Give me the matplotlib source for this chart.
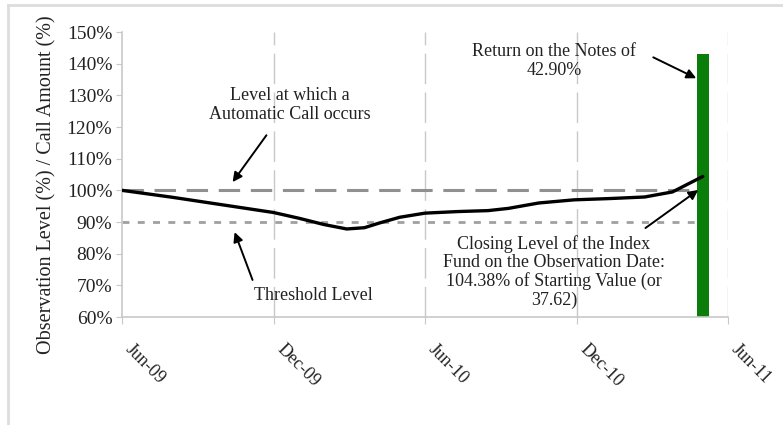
import matplotlib
matplotlib.use("Agg")
import matplotlib.pyplot as plt
from matplotlib.lines import Line2D

plt.rcParams['font.family'] = ['Liberation Serif', 'DejaVu Serif']

# months since Jun-09
months = [0, 1, 2, 3, 4, 5, 6, 7, 8, 8.9, 9.6, 10.2, 11, 12, 13.3, 14.5, 15.3, 16.5, 17.9, 19.3, 20.7, 21.8, 23]
levels = [100, 98.9, 97.8, 96.6, 95.4, 94.2, 93.0, 91.2, 89.2, 87.8, 88.2, 89.7, 91.5, 92.8, 93.3, 93.6, 94.3, 96.0, 97.0, 97.4, 97.9, 99.5, 104.38]
obs_month = 23
note_return = 142.9
call_level = 100
threshold = 90
tick_months = [0, 6, 12, 18, 24]
tick_labels = ['Jun-09', 'Dec-09', 'Jun-10', 'Dec-10', 'Jun-11']
y_ticks = [60, 70, 80, 90, 100, 110, 120, 130, 140, 150]

fig = plt.figure(figsize=(7.83, 4.25), dpi=100)
ax = fig.add_axes([0.1558, 0.2541, 0.7740, 0.6706])

txt = '#222222'
grid = '#c8c8c8'

ax.set_xlim(0, 24)
ax.set_ylim(60, 150)

for m in tick_months[1:]:
    ax.axvline(m, color=grid, lw=1.0, ls=(0, (22, 6)), zorder=0)

ax.bar([obs_month], [note_return], width=0.47, color='#0a7d0a', zorder=2)
ax.plot([0, obs_month], [call_level, call_level], color='#909090', lw=2.2, ls=(0, (7, 3.5)), zorder=1)
ax.plot([0, obs_month], [threshold, threshold], color='#a0a0a0', lw=2.0, ls=(0, (2.5, 3)), zorder=1)
ax.plot(months, levels, color='black', lw=2.4, zorder=3, solid_capstyle='round')

ax.set_xticks(tick_months)
ax.set_xticklabels(tick_labels, rotation=-45, ha='left', va='top', rotation_mode='default', fontsize=13, color=txt)
ax.set_yticks(y_ticks)
ax.set_yticklabels([f'{v}%' for v in y_ticks], fontsize=14, color=txt)
ax.tick_params(axis='x', length=5, color=grid, pad=12)
ax.tick_params(axis='y', length=4, color=grid, pad=3)
for s in ['top', 'right']:
    ax.spines[s].set_visible(False)
for s in ['left', 'bottom']:
    ax.spines[s].set_color(grid)
    ax.spines[s].set_linewidth(1.2)

ax.set_ylabel('Observation Level (%) / Call Amount (%)', fontsize=14.5, color=txt)
ax.yaxis.set_label_coords(-0.108, 0.465)

ap = dict(arrowstyle='-|>', color='black', lw=1.4, mutation_scale=14, shrinkA=0, shrinkB=0)
fs = 13
ax.text(6.63, 126.9, 'Level at which a\nAutomatic Call occurs', ha='center', va='center',
        fontsize=fs, color=txt, linespacing=1.2)
ax.annotate('', xy=(4.38, 102.6), xytext=(5.72, 117.4), arrowprops=dict(ap))
ax.text(7.58, 66.9, 'Threshold Level', ha='center', va='center', fontsize=fs, color=txt)
ax.annotate('', xy=(4.46, 86.8), xytext=(5.17, 71.7), arrowprops=dict(ap))
ax.text(17.1, 140.8, 'Return on the Notes of\n42.90%', ha='center', va='center', fontsize=fs, color=txt, linespacing=1.2)
ax.annotate('', xy=(22.74, 135.4), xytext=(21.04, 142.0), arrowprops=dict(ap))
ax.text(17.1, 74.2, 'Closing Level of the Index\nFund on the Observation Date:\n104.38% of Starting Value (or\n37.62)',
        ha='center', va='center', fontsize=fs, color=txt, linespacing=1.1)
ax.annotate('', xy=(22.82, 100.1), xytext=(20.73, 88.1), arrowprops=dict(ap))

# outer frame (left & top)
fig.add_artist(Line2D([8/783, 8/783], [0, 1 - 5/425], transform=fig.transFigure, color='#dddddd', lw=2))
fig.add_artist(Line2D([8/783, 1], [1 - 5/425, 1 - 5/425], transform=fig.transFigure, color='#dddddd', lw=2))

fig.savefig('out.png', dpi=100)
